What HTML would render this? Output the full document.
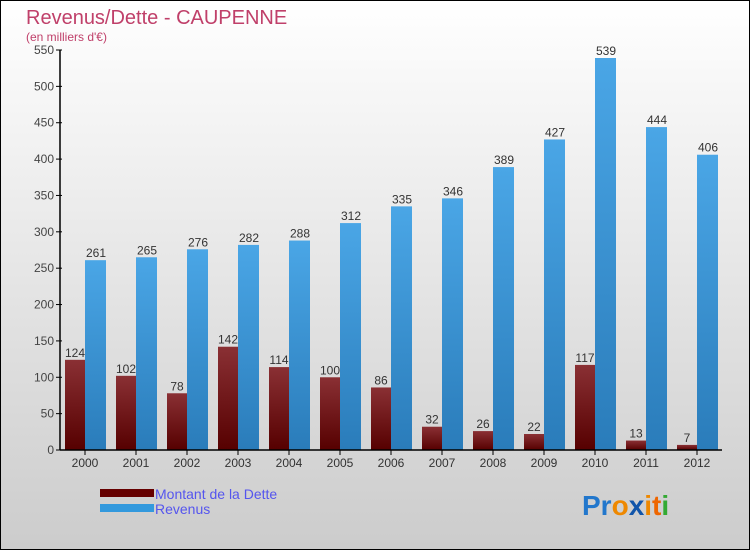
<!DOCTYPE html>
<html><head><meta charset="utf-8"><style>
body{margin:0;}
#c{width:750px;height:550px;position:relative;font-family:"Liberation Sans",sans-serif;}
</style></head><body>
<div id="c">
<svg width="750" height="550" xmlns="http://www.w3.org/2000/svg">
<defs>
<linearGradient id="bg" x1="0" y1="0" x2="0" y2="1"><stop offset="0" stop-color="#ffffff"/><stop offset="1" stop-color="#cccccc"/></linearGradient>
<linearGradient id="gd" x1="0" y1="0" x2="0" y2="1"><stop offset="0" stop-color="#8a3034"/><stop offset="1" stop-color="#560000"/></linearGradient>
<linearGradient id="gr" x1="0" y1="0" x2="0" y2="1"><stop offset="0" stop-color="#4aa6e6"/><stop offset="1" stop-color="#2a7cba"/></linearGradient>
</defs>
<rect x="0.5" y="0.5" width="749" height="549" fill="url(#bg)" stroke="#000"/>
<text x="26" y="24" font-size="20" fill="#c0406a">Revenus/Dette - CAUPENNE</text>
<text x="26" y="41" font-size="12" fill="#c0406a">(en milliers d'€)</text>
<g id="plot"></g>
<g>
<rect x="100" y="489" width="54" height="8" fill="#660000"/>
<text x="155" y="499" font-size="14" fill="#5555ee">Montant de la Dette</text>
<rect x="100" y="504" width="54" height="8" fill="#3399dd"/>
<text x="155" y="514" font-size="14" fill="#5555ee">Revenus</text>
</g>
<text x="582" y="515" font-size="28" font-weight="bold"><tspan fill="#2277cc">Pr</tspan><tspan fill="#ee8800">o</tspan><tspan fill="#1155aa">x</tspan><tspan fill="#ee8800">i</tspan><tspan fill="#ee6600">t</tspan><tspan fill="#33aa33">i</tspan></text>
</svg>
</div>
<script>
const years=["2000","2001","2002","2003","2004","2005","2006","2007","2008","2009","2010","2011","2012"];
const dette=[124,102,78,142,114,100,86,32,26,22,117,13,7];
const revenus=[261,265,276,282,288,312,335,346,389,427,539,444,406];
const yTicks=[0,50,100,150,200,250,300,350,400,450,500,550];
const NS="http://www.w3.org/2000/svg";
const g=document.getElementById('plot');
const y=v=>450-v*400/550;
const x=i=>85+i*51;
function mk(t,a,txt){const e=document.createElementNS(NS,t);for(const k in a)e.setAttribute(k,a[k]);if(txt!==undefined)e.textContent=txt;g.appendChild(e);return e;}
years.forEach((yr,i)=>{
 let e=mk('rect',{x:x(i)-20,y:y(dette[i]),width:20,height:450-y(dette[i]),fill:'url(#gd)'});
 
 
 e=mk('rect',{x:x(i),y:y(revenus[i]),width:21,height:450-y(revenus[i]),fill:'url(#gr)'});
 
 
 e=mk('text',{x:x(i)-10,y:y(dette[i])-3,'font-size':12,fill:'#333','text-anchor':'middle'},dette[i]);
 
 
 e=mk('text',{x:x(i)+11,y:y(revenus[i])-3,'font-size':12,fill:'#333','text-anchor':'middle'},revenus[i]);
 
 
 e=mk('line',{x1:x(i),x2:x(i),y1:450,y2:455,stroke:'#000'});
 
 
 e=mk('text',{x:x(i),y:467,'font-size':12,fill:'#333','text-anchor':'middle'},yr);
 
 
});
yTicks.forEach(v=>{
 let e=mk('line',{x1:56,x2:62,y1:y(v),y2:y(v),stroke:'#000'});
 
 
 e=mk('text',{x:54,y:y(v)+4,'font-size':12,fill:'#444','text-anchor':'end'},v);
 
 
});
let a=mk('line',{x1:60,x2:60,y1:50,y2:450,stroke:'#000','stroke-width':1.5});


a=mk('line',{x1:60,x2:722,y1:450,y2:450,stroke:'#000','stroke-width':1.5});


</script>
</body></html>
